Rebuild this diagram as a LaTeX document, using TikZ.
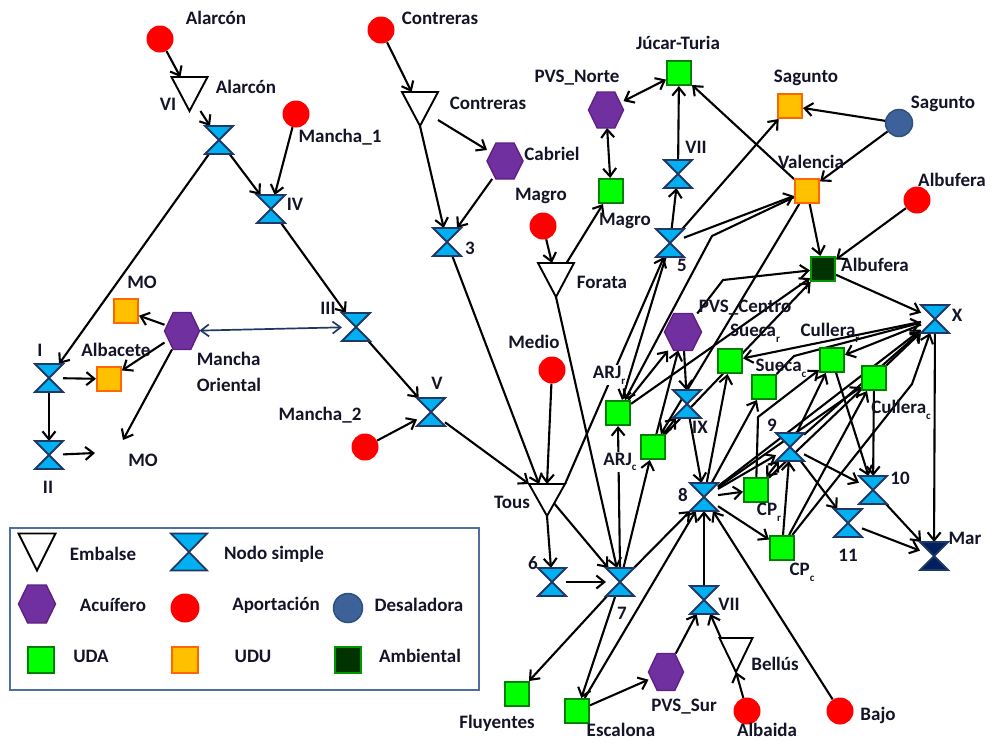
\documentclass[tikz,border=0pt]{standalone}
\usepackage{fontspec}
\setmainfont{Carlito}
\usetikzlibrary{arrows.meta,shapes.geometric,calc}
\pgfdeclarelayer{bg}
\pgfsetlayers{bg,main}
\definecolor{navyb}{RGB}{31,56,100}
\definecolor{hgfill}{RGB}{0,176,240}
\definecolor{marfill}{RGB}{0,32,96}
\definecolor{purp}{RGB}{112,48,160}
\definecolor{purpd}{RGB}{96,32,128}
\definecolor{udafill}{RGB}{0,255,0}
\definecolor{udadraw}{RGB}{0,128,0}
\definecolor{udufill}{RGB}{255,192,0}
\definecolor{ududraw}{RGB}{255,102,0}
\definecolor{ambfill}{RGB}{0,51,0}
\definecolor{ambdraw}{RGB}{0,153,0}
\definecolor{desfill}{RGB}{61,97,153}
\definecolor{desdraw}{RGB}{47,79,127}
\definecolor{legbox}{RGB}{79,110,160}
\definecolor{txt}{RGB}{20,20,40}
\newcommand\sbx[1]{\raisebox{-0.3em}{\fontsize{11}{11}\selectfont #1}}
\tikzset{
  box/.style={draw=none,rectangle,inner sep=0pt,outer sep=0pt},
  lab/.style={font=\fontsize{19}{26}\selectfont\bfseries,text=txt,inner sep=0pt},
  uda/.style={rectangle,minimum size=24pt,inner sep=0pt,draw=udadraw,fill=udafill,line width=2pt},
  udu/.style={rectangle,minimum size=24pt,inner sep=0pt,draw=ududraw,fill=udufill,line width=2pt},
  amb/.style={rectangle,minimum size=24pt,inner sep=0pt,draw=ambdraw,fill=ambfill,line width=2pt},
  aport/.style={circle,minimum size=27pt,inner sep=0pt,fill=red,draw=none},
  desal/.style={circle,minimum size=27pt,inner sep=0pt,fill=desfill,draw=desdraw,line width=1.5pt},
  ar/.style={line width=2.1pt,line join=round,-{Straight Barb[length=8pt,width=13pt]}},
  ar2/.style={line width=2.1pt,{Straight Barb[length=8pt,width=13pt]}-{Straight Barb[length=8pt,width=13pt]}},
  arn/.style={line width=1.7pt,draw=navyb,{Straight Barb[length=8pt,width=12pt]}-{Straight Barb[length=8pt,width=12pt]}}
}
% hourglass: name,x,y,w,h,fill
\newcommand\hgx[6]{\node[box,minimum width=#4pt,minimum height=#5pt] (#1) at (#2,#3) {};
  \draw[line width=1.8pt,draw=navyb,fill=#6,line join=miter] (#1.north west) -- (#1.north east) -- (#1.south west) -- (#1.south east) -- cycle;}
\newcommand\hg[3]{\hgx{#1}{#2}{#3}{28}{28}{hgfill}}
% embalse: name,x,y,w,h
\newcommand\emb[5]{\node[box,minimum width=#4pt,minimum height=#5pt] (#1) at (#2,#3) {};
  \draw[line width=1.9pt,fill=white,line join=miter] (#1.north west) -- (#1.north east) -- (#1.south) -- cycle;}
% hexagon: name,x,y,w,h
\newcommand\hex[5]{\node[box,minimum width=#4pt,minimum height=#5pt] (#1) at (#2,#3) {};
  \draw[line width=1.4pt,draw=purpd,fill=purp] (#1.west) -- ($(#1.north west)!0.25!(#1.north east)$) -- ($(#1.north west)!0.75!(#1.north east)$) -- (#1.east) -- ($(#1.south west)!0.75!(#1.south east)$) -- ($(#1.south west)!0.25!(#1.south east)$) -- cycle;}
\begin{document}
\begin{tikzpicture}[x=1pt,y=-1pt]
\useasboundingbox (0,0) rectangle (990,742);
% ---------- aportaciones ----------
\node[aport] (rAla) at (160,39) {};
\node[aport] (rMan1) at (296,114) {};
\node[aport] (rCon) at (381,30) {};
\node[aport] (rMag) at (543,226) {};
\node[aport] (rAlbu) at (917,200) {};
\node[aport] (rMed) at (552,370) {};
\node[aport] (rMan2) at (365,447) {};
\node[aport] (rAlbai) at (747,711) {};
\node[aport] (rBajo) at (840,711) {};
\node[desal] (dSag) at (899,123) {};
% ---------- embalses ----------
\emb{eAla}{189.5}{94}{36}{34}
\emb{eCon}{420}{109}{36}{34}
\emb{eFor}{556}{280}{36}{34}
\emb{eTous}{547}{500}{36}{32}
\emb{eBel}{736}{655}{33}{34}
% ---------- nodos simples ----------
\hg{nVI}{219}{140}
\hg{nIV}{271}{209}
\hg{nIII}{356}{327}
\hg{nV}{431}{412}
\hg{nI}{49}{378}
\hg{nII}{49}{455}
\hg{n3}{447}{242}
\hg{n5}{670}{243}
\hg{nVIIu}{678}{174}
\hg{nIX}{687}{404}
\hg{n8}{704}{497}
\hg{n9}{790}{447}
\hg{n10}{873}{490}
\hg{n11}{848}{523}
\hg{nX}{935}{319}
\hgx{nMar}{934}{556}{28}{28}{marfill}
\hg{n6}{552}{582}
\hg{n7}{620}{582}
\hg{nVIIl}{704}{600}
% ---------- acuiferos ----------
\hex{hMO}{182}{331}{35}{37}
\hex{hCab}{505}{161}{36}{36}
\hex{hPVSN}{606}{110}{35}{36}
\hex{hPVSC}{683}{332}{37}{37}
\hex{hPVSS}{666}{672}{35}{37}
% ---------- UDA / UDU / ambiental ----------
\node[uda] (uJT) at (679,73) {};
\node[uda] (uMag) at (611,191) {};
\node[uda] (uARJr) at (618,413) {};
\node[uda] (uARJc) at (653,447) {};
\node[uda] (uSueR) at (730,361) {};
\node[uda] (uSueC) at (764,387) {};
\node[uda] (uCulR) at (832,360) {};
\node[uda] (uCulC) at (874,378) {};
\node[uda] (uCPr) at (756,490) {};
\node[uda] (uCPc) at (782,548) {};
\node[uda] (uFluy) at (517,694) {};
\node[uda] (uEsc) at (577,711) {};
\node[udu] (uSagU) at (790,106) {};
\node[udu] (uVal) at (807,191) {};
\node[udu] (uMO) at (126,311) {};
\node[udu] (uAlbc) at (109,379) {};
\node[amb] (aAlb) at (823,269) {};
\coordinate (cMO1) at (123,440);
\coordinate (cMO2) at (95,453);
% ---------- labels ----------
\node[lab] (l1) at (216,18) {Alarcón};
\node[lab] (l2) at (246,87) {Alarcón};
\node[lab] (l3) at (168,104) {VI};
\node[lab] (l4) at (340,137) {Mancha\_1};
\node[lab] (l5) at (295,204) {IV};
\node[lab] (l6) at (328,308) {III};
\node[lab] (l7) at (437,383) {V};
\node[lab] (l8) at (40,350) {I};
\node[lab] (l9) at (48,487) {II};
\node[lab] (l10) at (142,282) {MO};
\node[lab] (l11) at (116,350) {Albacete};
\node[lab,align=left] (l12) at (229,372) {Mancha\\Oriental};
\node[lab] (l13) at (143,460) {MO};
\node[lab] (l14) at (320,415) {Mancha\_2};
\node[lab] (l15) at (440,18) {Contreras};
\node[lab] (l16) at (488,103) {Contreras};
\node[lab] (l17) at (470,248) {3};
\node[lab] (l18) at (552,154) {Cabriel};
\node[lab] (l19) at (577,78) {PVS\_Norte};
\node[lab] (l20) at (678,43) {Júcar-Turia};
\node[lab] (l21) at (541,196) {Magro};
\node[lab] (l22) at (625,221) {Magro};
\node[lab] (l23) at (696,147) {VII};
\node[lab] (l24) at (682,265) {5};
\node[lab] (l25) at (602,282) {Forata};
\node[lab] (l26) at (534,342) {Medio};
\node[lab,fill=white,inner sep=1pt] (l27) at (609,375) {ARJ\sbx{r}};
\node[lab,fill=white,inner sep=1pt] (l28) at (620,462) {ARJ\sbx{c}};
\node[lab] (l29) at (700,427) {IX};
\node[lab] (l30) at (683,495) {8};
\node[lab] (l31) at (745,308) {PVS\_Centro};
\node[lab] (l32) at (755,333) {Sueca\sbx{r}};
\node[lab] (l33) at (830,333) {Cullera\sbx{r}};
\node[lab] (l34) at (781,368) {Sueca\sbx{c}};
\node[lab] (l35) at (901,410) {Cullera\sbx{c}};
\node[lab] (l36) at (772,425) {9};
\node[lab] (l37) at (900,478) {10};
\node[lab] (l38) at (848,555) {11};
\node[lab] (l39) at (769,512) {CP\sbx{r}};
\node[lab] (l40) at (802,572) {CP\sbx{c}};
\node[lab] (l41) at (965,538) {Mar};
\node[lab] (l42) at (957,315) {X};
\node[lab] (l43) at (875,265) {Albufera};
\node[lab] (l44) at (952,180) {Albufera};
\node[lab] (l45) at (811,162) {Valencia};
\node[lab] (l46) at (806,78) {Sagunto};
\node[lab] (l47) at (943,104) {Sagunto};
\node[lab] (l48) at (512,502) {Tous};
\node[lab] (l49) at (533,563) {6};
\node[lab] (l50) at (622,613) {7};
\node[lab] (l51) at (497,723) {Fluyentes};
\node[lab] (l52) at (621,730) {Escalona};
\node[lab] (l53) at (684,707) {PVS\_Sur};
\node[lab] (l54) at (729,604) {VII};
\node[lab] (l55) at (775,664) {Bellús};
\node[lab] (l56) at (767,730) {Albaida};
\node[lab] (l57) at (878,715) {Bajo};
% ---------- legend ----------
\node[box,draw=legbox,line width=2.8pt,minimum width=469pt,minimum height=162pt] (legend) at (244.5,609) {};
\emb{gEmb}{37}{552}{37}{37}
\hgx{gHg}{189}{552}{36}{37}{hgfill}
\hex{gHex}{37}{604}{37}{38}
\node[aport,minimum size=29pt] (gAp) at (185,608) {};
\node[desal,minimum size=29pt] (gDes) at (348,608) {};
\node[uda,minimum size=26pt] (gUDA) at (41,660) {};
\node[udu,minimum size=26pt] (gUDU) at (185,660) {};
\node[amb,minimum size=26pt] (gAmb) at (348,660) {};
\node[lab] (g1) at (103,554) {Embalse};
\node[lab] (g2) at (274,554) {Nodo simple};
\node[lab] (g3) at (113,605) {Acuífero};
\node[lab] (g4) at (276,605) {Aportación};
\node[lab] (g5) at (419,605) {Desaladora};
\node[lab] (g6) at (91,656) {UDA};
\node[lab] (g7) at (253,656) {UDU};
\node[lab] (g8) at (420,656) {Ambiental};
% ---------- connectors ----------
\begin{pgfonlayer}{bg}
\draw[ar] (rAla) -- (eAla);
\draw[ar] (eAla) -- (nVI);
\draw[ar] (nVI) -- (nIV);
\draw[ar] (rMan1) -- (nIV);
\draw[ar] (nVI) -- (nI);
\draw[ar] (nIV) -- (nIII);
\draw[ar] (nIII) -- (nV);
\draw[arn] (nIII) -- (hMO);
\draw[ar] (hMO) -- (uMO);
\draw[ar] (hMO) -- (uAlbc);
\draw[ar] (hMO) -- (cMO1);
\draw[ar] (nI) -- (uAlbc);
\draw[ar] (nI) -- (nII);
\draw[ar] (nII) -- (cMO2);
\draw[ar] (rMan2) -- (nV);
\draw[ar] (nV) -- (eTous.north west);
\draw[ar] (rCon) -- (eCon);
\draw[ar] (eCon) -- (hCab);
\draw[ar] (eCon.south) -- (n3);
\draw[ar] (hCab) -- (n3);
\draw[ar] (n3) -- ([xshift=-8pt]eTous.north);
\draw[ar] (rMed) -- (eTous.north);
\draw[ar] (rMag) -- (eFor);
\draw[ar] (eFor) -- (uMag);
\draw[ar] (eFor.south) -- (n7);
\draw[ar2] (hPVSN) -- (uMag);
\draw[ar2] (hPVSN) -- (uJT);
\draw[ar] (nVIIu) -- (uJT);
\draw[ar] (n5) -- (nVIIu);
\draw[ar] (eTous.south) -- (n6);
\draw[ar] ([xshift=6pt,yshift=-2pt]eTous.center) -- (n7);
\draw[ar] (n6) -- (n7);
\draw[ar] (eTous.north east) -- (n5);
\draw[ar] (n7) -- (uFluy);
\draw[ar] (n7) -- (uEsc);
\draw[ar] (uEsc) -- (hPVSS);
\draw[ar] (hPVSS) -- (nVIIl);
\draw[ar] (rAlbai) -- (eBel.south);
\draw[ar] (eBel.south) -- (nVIIl);
\draw[ar] (nVIIl) -- (n8);
\draw[ar] (rBajo) -- (n8);
\draw[ar] (n7) -- (n8);
\draw[ar] (uEsc) -- (n8);
\draw[ar] (n7.north) -- (uARJr.south);
\draw[ar] (n7) -- (uARJc);
\draw[ar] (n5) -- (uSagU);
\draw[ar] (n5) -- (uVal);
\draw[ar] (n5) -- (uARJr);
\draw[ar] (uVal) -- (uJT);
\draw[ar] (uVal) -- (aAlb);
\draw[ar] (dSag) -- (uSagU);
\draw[ar] (dSag) -- (uVal);
\draw[ar] (rAlbu) -- (aAlb);
\draw[ar] (aAlb) -- (nX);
\draw[ar] (uVal) -- (712,236) -- (uARJr);
\draw[ar] (uVal) -- (uARJc);
\draw[ar] (uARJr) -- (aAlb);
\draw[ar] (uARJc) -- (aAlb);
\draw[ar] (hPVSC) -- (723,280) -- (aAlb);
\draw[ar] (uARJr) -- (hPVSC);
\draw[ar] (uARJc) -- (hPVSC);
\draw[ar] (uARJc) -- (nIX);
\draw[ar] (hPVSC) -- (nIX);
\draw[ar] (nIX) -- (n8);
\draw[ar] (n8) -- (uSueR);
\draw[ar] (n8) -- (uSueC);
\draw[ar] (n8) -- (uCPr);
\draw[ar] (n8) -- (uCPc);
\draw[ar] (n8) -- (n9);
\draw[ar] (n8) -- (uCulC);
\draw[ar] (n8) -- (nX);
\draw[ar] (nX) -- (uSueR);
\draw[ar] (nX) -- (uCulR);
\draw[ar] (uSueC) -- (794,356) -- (nX);
\draw[ar] (uCPr) -- (nX);
\draw[ar] (uCPc) -- (912,384) -- (nX);
\draw[ar] (n9) -- (nX);
\draw[ar] (n9) -- (n10);
\draw[ar] (n9) -- (n11);
\draw[ar2] (n9) -- (uCPr);
\draw[ar] (uCPc) -- (n9);
\draw[ar] (n9) -- (uCulR);
\draw[ar] (uCulR) -- (n10);
\draw[ar] (uCulC) -- (n10);
\draw[ar] (n10) -- (nMar);
\draw[ar] (n11) -- (nMar);
\draw[ar] (nX) -- (nMar);
\draw[ar] (uCPr) -- (758,417) -- (uCulR);
\draw[ar] (uCPc) -- (uCulC);
\end{pgfonlayer}
\end{tikzpicture}
\end{document}
